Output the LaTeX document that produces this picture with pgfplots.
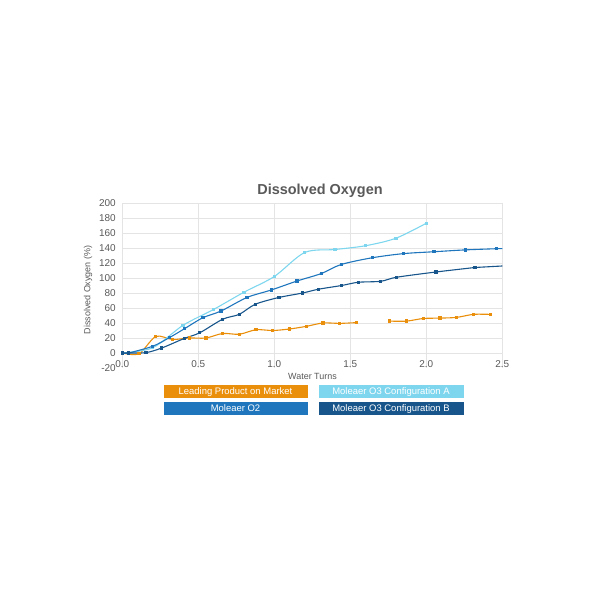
\documentclass[border=0pt]{standalone}
\usepackage{fontspec}
\setmainfont{Liberation Sans}
\usepackage{pgfplots}
\usepackage{pgfplotstable}
\pgfplotsset{compat=1.18}

\definecolor{cOrange}{HTML}{EA8F0C}
\definecolor{cCyan}{HTML}{7ED6EE}
\definecolor{cMid}{HTML}{1F76BD}
\definecolor{cDark}{HTML}{17558B}
\definecolor{cText}{HTML}{595959}
\definecolor{cGrid}{HTML}{E4E4E4}

% Leading Product on Market (two runs, gap in the middle)
\pgfplotstableread{
x y
0 0
0.11 -1
0.22 22
0.33 18
0.44 20
0.55 20
0.66 26
0.77 25
0.88 31
0.99 30
1.10 32
1.21 35.5
1.32 40
1.43 39.5
1.54 40.5
}\leadA
\pgfplotstableread{
x y
1.76 42.5
1.87 42.5
1.98 46
2.09 46.5
2.20 47.5
2.31 51.5
2.42 51.5
}\leadB
% Moleaer O3 Configuration A
\pgfplotstableread{
x y
0 0
0.2 7
0.4 37
0.6 58
0.8 81
1.0 102
1.2 134
1.4 138
1.6 143
1.8 153
2.0 173
}\confA
% Moleaer O2
\pgfplotstableread{
x y
0 0
0.04 0
0.2 9
0.31 20.5
0.41 32.5
0.53 47
0.65 56
0.82 74
0.98 84
1.15 96
1.31 106
1.44 118
1.645 127
1.85 132.5
2.05 135
2.26 137.5
2.46 139
}\otwo
% Moleaer O3 Configuration B
\pgfplotstableread{
x y
0 0
0.04 0
0.156 0.5
0.26 6.7
0.41 19.6
0.51 27
0.66 45
0.77 51.6
0.875 65
1.03 74
1.187 80
1.29 85
1.443 90
1.553 94.3
1.70 95.6
1.805 101
2.064 108
2.32 114
}\confB

\begin{document}
\begin{tikzpicture}[x=1bp,y=1bp]
\path (0,0) rectangle (600,600);
\begin{axis}[
  at={(122.3bp,232bp)}, anchor=south west,
  scale only axis, width=380bp, height=165bp,
  xmin=0, xmax=2.5, ymin=-20, ymax=200,
  xtick={0,0.5,...,2.5},
  ytick={0,20,...,200},
  extra y ticks={-20},
  extra y tick style={grid=none},
  xticklabel={\pgfmathprintnumber[fixed,fixed zerofill,precision=1]{\tick}},
  axis line style={draw=none},
  major tick length=0pt,
  grid=major,
  grid style={cGrid, line width=0.8bp},
  /pgf/number format/assume math mode=true,
  tick label style={font=\fontsize{10}{12}\selectfont, text=cText},
  xticklabel style={anchor=center, yshift=4bp},
  yticklabel style={xshift=-3bp},
  every axis plot/.append style={line width=1.1bp, smooth, tension=0.5,
    mark=square*, mark size=1.1bp},
]
\addplot[cOrange, mark options={fill=cOrange}] table {\leadA};
\addplot[cOrange, mark options={fill=cOrange}] table {\leadB};
\addplot[cCyan, mark options={fill=cCyan}] table {\confA};
\addplot[cMid, mark options={fill=cMid}] table {\otwo};
\addplot[cMid, no markers] coordinates {(2.46,139) (2.5,139.2)};
\addplot[cDark, mark options={fill=cDark}] table {\confB};
\addplot[cDark, no markers] coordinates {(2.32,114) (2.5,116)};
\end{axis}
\node[text=cText, font=\bfseries\fontsize{14.5}{16}\selectfont] at (320,409) {Dissolved Oxygen};
\node[text=cText, font=\fontsize{9}{11}\selectfont, rotate=90] at (88,310) {Dissolved Oxygen (\%)};
\node[text=cText, font=\fontsize{9}{11}\selectfont] at (312.5,224) {Water Turns};
\begin{scope}[every node/.style={text=white, font=\fontsize{9.5}{11}\selectfont,
    minimum height=14.5bp, inner sep=0pt, text height=8bp, text depth=2bp,
    draw=white, line width=0.5bp}]
\node[fill=cOrange, minimum width=144.5bp] at (235.5,208.5) {Leading Product on Market};
\node[fill=cCyan, minimum width=145.5bp] at (391,208.5) {Moleaer O3 Configuration A};
\node[fill=cMid, minimum width=144.5bp] at (235.5,191.5) {Moleaer O2};
\node[fill=cDark, minimum width=145.5bp] at (391,191.5) {Moleaer O3 Configuration B};
\end{scope}
\end{tikzpicture}
\end{document}
